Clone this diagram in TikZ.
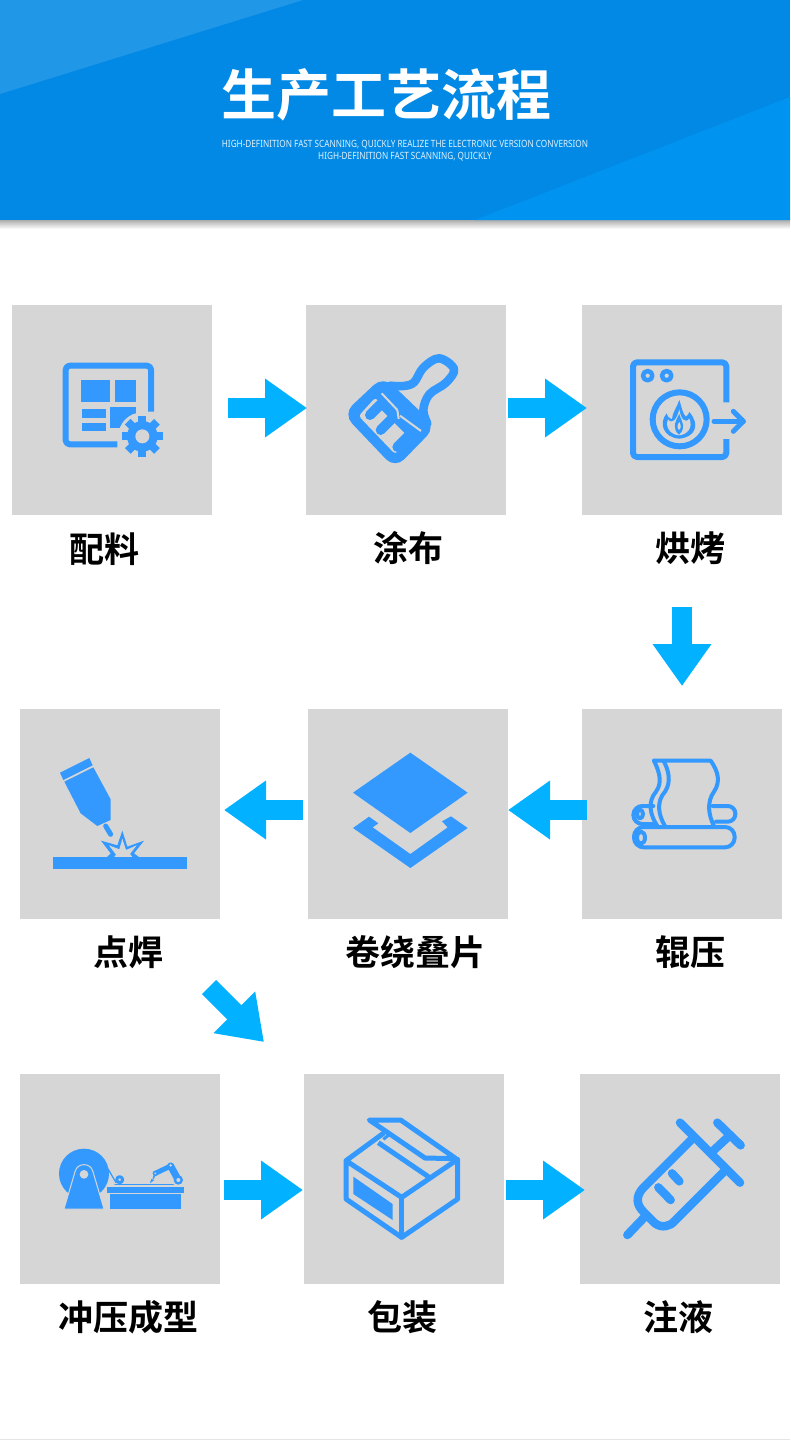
\documentclass[tikz,border=0pt]{standalone}
\usepackage{fontspec}
\usepackage{graphicx}
\setmainfont{Noto Sans CJK SC}[BoldFont={Noto Sans CJK SC Bold}]
\newfontfamily\subfont{Noto Sans}
\usetikzlibrary{arrows.meta,shadings}
\definecolor{boxgray}{HTML}{D6D6D6}
\definecolor{iconblue}{HTML}{3399FF}
\definecolor{arrowblue}{HTML}{02B1FF}
\definecolor{headmain}{HTML}{0189E5}
\definecolor{headlight}{HTML}{2097E7}
\definecolor{headright}{HTML}{0093EF}
\tikzset{
 x=1pt,y=-1pt,
 stagebox/.style={draw=none,fill=boxgray,minimum width=200pt,minimum height=210pt,inner sep=0pt,outer sep=0pt,anchor=north west},
 stagelabel/.style={font=\bfseries\fontsize{35}{35}\selectfont,text=black,inner sep=0pt},
 flowarrow/.style={draw=arrowblue,line width=20pt,-{Triangle[length=42pt,width=56pt,fill=arrowblue]}},
 zm/.style 2 args={shift={(#1,#2)},x=0.33333pt,y=-0.33333pt},
 ib/.style={draw=iconblue,line join=round,line cap=round},
 fb/.style={fill=iconblue},
 fg/.style={fill=boxgray},
}
\begin{document}
\begin{tikzpicture}
\useasboundingbox (0,0) rectangle (790,1440);
\fill[white] (0,0) rectangle (790,1440);
% header
\shade[top color=black!32,bottom color=white] (0,220) rectangle (790,229);
\fill[headmain] (0,0) rectangle (790,220);
\fill[headlight] (0,0) -- (303,0) -- (0,94) -- cycle;
\fill[headright] (790,97) -- (790,220) -- (475,220) -- cycle;
\node[font=\bfseries\fontsize{55}{55}\selectfont,text=white,inner sep=0pt] (title) at (386,95) {生产工艺流程};
\node[text=white!88!headmain,inner sep=0pt] (sub1) at (405,145) {\subfont\fontsize{10}{10}\selectfont\scalebox{0.82}[1]{HIGH-DEFINITION FAST SCANNING, QUICKLY REALIZE THE ELECTRONIC VERSION CONVERSION}};
\node[text=white!88!headmain,inner sep=0pt] (sub2) at (405,157) {\subfont\fontsize{10}{10}\selectfont\scalebox{0.82}[1]{HIGH-DEFINITION FAST SCANNING, QUICKLY}};
\fill[black!10] (0,1439) rectangle (790,1440);
% boxes
\node[stagebox] (b1) at (12,305) {};
\node[stagebox] (b2) at (306,305) {};
\node[stagebox] (b3) at (582,305) {};
\node[stagebox] (b4) at (582,709) {};
\node[stagebox] (b5) at (308,709) {};
\node[stagebox] (b6) at (20,709) {};
\node[stagebox] (b7) at (20,1074) {};
\node[stagebox] (b8) at (304,1074) {};
\node[stagebox] (b9) at (580,1074) {};
% labels
\node[stagelabel] (l1) at (104,549) {配料};
\node[stagelabel] (l2) at (408,548) {涂布};
\node[stagelabel] (l3) at (690,548.5) {烘烤};
\node[stagelabel] (l4) at (690,952.5) {辊压};
\node[stagelabel] (l5) at (415,952.5) {卷绕叠片};
\node[stagelabel] (l6) at (128,952.5) {点焊};
\node[stagelabel] (l7) at (128,1317) {冲压成型};
\node[stagelabel] (l8) at (402,1317) {包装};
\node[stagelabel] (l9) at (678,1317) {注液};
% connectors
\coordinate (a1s) at (228,408); \coordinate (a1e) at (307,408);
\coordinate (a2s) at (508,408); \coordinate (a2e) at (587,408);
\coordinate (a3s) at (682,607); \coordinate (a3e) at (682,686);
\coordinate (a4s) at (587,810); \coordinate (a4e) at (508,810);
\coordinate (a5s) at (303,810); \coordinate (a5e) at (224,810);
\coordinate (a6s) at (209,987); \coordinate (a6e) at (264,1042);
\coordinate (a7s) at (224,1190); \coordinate (a7e) at (303,1190);
\coordinate (a8s) at (506,1190); \coordinate (a8e) at (585,1190);
\foreach \n in {1,...,8} {\draw[flowarrow] (a\n s) -- (a\n e);}
% icon 1: sheet and gear
\begin{scope}[zm={40}{340}]
 \draw[ib,line width=6pt,line cap=butt,rounded corners=4pt] (333,215) -- (333,77) -- (77,77) -- (77,313) -- (232,313);
 \fill[fb] (122,120) rectangle (210,185);
 \fill[fb] (224,120) rectangle (288,185);
 \fill[fb] (127,207) rectangle (198,233);
 \fill[fb] (127,248) rectangle (198,272);
 \fill[fb] (210,200) rectangle (288,265);
 \fill[fg] (307,289) circle (72);
 \fill[fb] (307,289) circle (46);
 \foreach \a in {0,45,...,315} {\fill[fb,rotate around={\a:(307,289)}] (295,227) rectangle (319,260);}
 \fill[fg] (307,289) circle (21);
\end{scope}
% icon 2: brush
\begin{scope}[zm={340}{345}]
 \draw[ib,line width=8.5pt] plot[smooth,tension=0.6] coordinates {(150,122) (190,123) (222,112) (250,68) (297,40) (342,72) (318,113) (268,148) (250,195) (262,235)};
 \fill[fb,rounded corners=13pt] (130,93) -- (288,245) -- (165,371) -- (9,207) -- cycle;
 \fill[fg,rounded corners=3pt] (106,158) -- (222,278) -- (165,327) -- (56,213) -- cycle;
 \draw[ib,line width=10pt] (90,210) -- (130,170);
 \draw[ib,line width=10pt] (122,255) -- (172,205);
 \draw[ib,line width=10pt] (172,306) -- (222,256);
 \fill[fb] (112,155) -- (135,140) -- (250,250) -- (215,285) -- (120,190) -- cycle;
 \draw[draw=boxgray,line width=2pt] (125,145) -- (172,195);
 \draw[draw=boxgray,line width=2pt] (180,212) -- (243,258);
 \draw[draw=boxgray,line width=2pt] (172,195) -- (176,222);
\end{scope}
% icon 3: oven
\begin{scope}[zm={610}{340}]
 \draw[ib,line width=6pt,line cap=butt,rounded corners=4pt] (349,187) -- (349,67) -- (69,67) -- (69,351) -- (349,351) -- (349,297);
 \draw[ib,line width=4.5pt] (113,107) circle (14);
 \draw[ib,line width=4.5pt] (170,107) circle (14);
 \draw[ib,line width=6pt] (209,238) circle (81);
 \draw[ib,line width=5pt] (312,244) -- (400,244);
 \draw[ib,line width=5pt] (370,214) -- (400,244) -- (370,274);
 \fill[fb] (207,296) .. controls (160,292) and (145,250) .. (170,220) .. controls (173,230) and (178,236) .. (186,238) .. controls (188,215) and (202,200) .. (208,180) .. controls (216,205) and (218,222) .. (228,230) .. controls (232,228) and (235,222) .. (238,216) .. controls (272,255) and (255,292) .. (207,296) -- cycle;
 \fill[fg] (207,286) .. controls (182,284) and (164,262) .. (174,238) .. controls (186,254) and (200,240) .. (208,208) .. controls (212,236) and (224,252) .. (238,236) .. controls (250,262) and (232,284) .. (207,286) -- cycle;
 \fill[fb] (207,284) .. controls (188,268) and (192,250) .. (208,222) .. controls (216,250) and (230,262) .. (207,284) -- cycle;
 \fill[fg] (207,270) .. controls (200,262) and (202,254) .. (208,246) .. controls (213,256) and (215,262) .. (207,270) -- cycle;
\end{scope}
% icon 4: rollers
\begin{scope}[zm={610}{740}]
 \begin{scope}[line width=4pt]
 \draw[ib,rounded corners=9.6pt] (72,261) rectangle (374,322);
 \draw[ib] (93,293) ellipse (12 and 18);
 \draw[ib,rounded corners=9pt] (130,198) -- (70,198) -- (70,252) -- (135,252);
 \draw[ib] (90,222) ellipse (9 and 13);
 \draw[ib,rounded corners=7.5pt] (308,198) -- (376,198) -- (376,245) -- (318,245);
 \draw[ib] (132,62) -- (302,62) .. controls (325,95) and (332,125) .. (312,155) .. controls (290,185) and (295,225) .. (312,258);
 \draw[ib] (132,62) .. controls (145,90) and (160,125) .. (138,155) .. controls (112,185) and (120,225) .. (142,258);
 \draw[ib] (162,65) .. controls (175,90) and (185,125) .. (165,155) .. controls (138,185) and (145,225) .. (165,258);
 \end{scope}
\end{scope}
% icon 5: layers
\begin{scope}[zm={340}{740}]
 \fill[fb] (211,38) -- (383,158) -- (211,279) -- (39,158) -- cycle;
 \fill[fb] (39,264) -- (87,230) -- (115,250) -- (98,262) -- (211,342) -- (323,262) -- (306,244) -- (333,229) -- (383,264) -- (211,384) -- cycle;
\end{scope}
% icon 6: welding
\begin{scope}[zm={40}{740}]
 \fill[fb] (60,98) -- (148,54) -- (158,76) -- (70,120) -- cycle;
 \fill[fb] (73,125) -- (160,82) -- (212,178) -- (212,240) -- (172,258) -- (122,220) -- cycle;
 \draw[ib,line width=5pt] (197,258) -- (212,283);
 \fill[fb] (200,352) -- (212,340) -- (183,302) -- (232,316) -- (247,272) -- (262,320) -- (312,302) -- (282,340) -- (298,352) -- cycle;
 \fill[fg] (222,352) -- (228,344) -- (207,316) -- (238,328) -- (247,296) -- (258,330) -- (290,316) -- (270,342) -- (278,352) -- cycle;
 \fill[fb] (40,352) rectangle (441,386);
\end{scope}
% icon 7: press
\begin{scope}[zm={40}{1130}]
 \fill[fb] (132,131) circle (75);
 \fill[fb,draw=boxgray,line width=1pt,line join=round] (72,237) -- (192,237) -- (158,122) .. controls (150,98) and (114,98) .. (106,122) -- cycle;
 \fill[fg] (132,133) circle (13);
 \draw[ib,line width=1.2pt] (205,118) -- (228,158);
 \draw[ib,line width=3pt] (239,149) circle (9);
 \draw[ib,line width=1.2pt] (225,164) -- (400,164);
 \fill[fb] (200,170) rectangle (431,190);
 \fill[fb] (210,193) rectangle (422,236);
 \draw[ib,line width=7pt] (415,150) -- (392,108);
 \draw[ib,line width=5pt] (392,108) -- (346,130);
 \draw[ib,line width=1.5pt] (346,130) -- (340,145);
 \fill[fb] (330,160) -- (334,147) -- (343,150) -- cycle;
 \fill[fb] (415,150) circle (14);
 \fill[fb] (392,108) circle (10);
 \fill[fb] (346,130) circle (8);
 \fill[fg] (415,150) circle (6);
 \fill[fg] (392,106) circle (4);
 \fill[fg] (346,130) circle (3);
\end{scope}
% icon 8: box
\begin{scope}[zm={330}{1100}]
 \draw[ib,line width=5pt] (160,100) -- (48,182) -- (48,297) -- (215,412) -- (383,297) -- (383,178) -- (215,292) -- (48,182);
 \draw[ib,line width=5pt] (215,292) -- (215,412);
 \draw[ib,line width=5pt] (118,60) -- (212,60) -- (378,176) -- (285,174) -- cycle;
 \draw[ib,line width=5pt,line cap=butt] (145,128) -- (298,232);
 \draw[ib,line width=3pt,line cap=butt] (160,118) -- (175,106);
 \fill[fb] (70,230) -- (188,312) -- (188,360) -- (70,282) -- cycle;
\end{scope}
% icon 9: syringe
\begin{scope}[zm={610}{1100}]
 \begin{scope}[line width=8.5pt]
 \draw[ib] (210,68) -- (390,248);
 \draw[ib] (322,68) -- (392,136);
 \draw[ib] (312,150) -- (355,110);
 \draw[ib] (245,118) -- (100,263) .. controls (75,290) and (80,315) .. (100,335) -- (135,370) .. controls (155,385) and (180,380) .. (195,362) -- (345,212);
 \draw[ib] (100,355) -- (52,405);
 \draw[ib] (186,220) -- (208,244);
 \draw[ib] (145,262) -- (182,300);
 \end{scope}
\end{scope}
\end{tikzpicture}
\end{document}
